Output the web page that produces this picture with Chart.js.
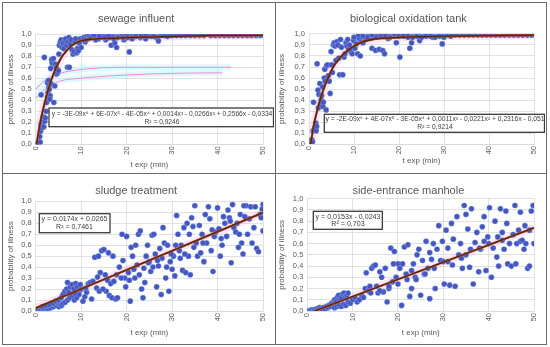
<!DOCTYPE html>
<html><head><meta charset="utf-8">
<script src="https://cdn.jsdelivr.net/npm/chart.js@4/dist/chart.umd.min.js"></script>
<style>
html,body{margin:0;padding:0;background:#fff;width:550px;height:347px;overflow:hidden;position:relative}
canvas{position:absolute}
.ln{position:absolute;background:#6b6b6b}
</style></head><body>
<canvas id="c1" style="left:3px;top:3px;width:271px;height:169px" width="271" height="169"></canvas>
<canvas id="c2" style="left:276px;top:3px;width:269px;height:169px" width="269" height="169"></canvas>
<canvas id="c3" style="left:3px;top:174px;width:271px;height:169px" width="271" height="169"></canvas>
<canvas id="c4" style="left:276px;top:174px;width:269px;height:169px" width="269" height="169"></canvas>
<div class="ln" style="left:2px;top:2px;width:545px;height:1px"></div>
<div class="ln" style="left:2px;top:173px;width:545px;height:1px"></div>
<div class="ln" style="left:2px;top:344px;width:545px;height:1px"></div>
<div class="ln" style="left:2px;top:2px;width:1px;height:343px"></div>
<div class="ln" style="left:275px;top:2px;width:1px;height:343px"></div>
<div class="ln" style="left:546px;top:2px;width:1px;height:343px"></div>
<script>
// ---------- DATA ----------
const panelTitles = ['sewage influent','biological oxidation tank','sludge treatment','side-entrance manhole'];
const xTicks = [0,10,20,30,40,50];
const yTicks = [0,0.1,0.2,0.3,0.4,0.5,0.6,0.7,0.8,0.9,1.0];

const sewagePoints = [[0,0],[0.2,0],[0.4,0],[0.6,0],[0.8,0.01],[0.5,0.02],[1.0,0.02],[0.9,0.07],[1.1,0.12],[1.3,0.15],[1.2,0.18],[1.5,0.2],[1.6,0.22],[1.8,0.16],[1.7,0.25],[2.0,0.21],[2.1,0.24],[1.2,0.45],[1.9,0.79],[2.3,0.3],[2.4,0.38],[2.6,0.43],[2.7,0.47],[2.9,0.52],[2.6,0.56],[2.8,0.58],[3.0,0.5],[3.2,0.44],[3.1,0.41],[3.4,0.55],[3.3,0.69],[3.6,0.74],[3.5,0.77],[3.9,0.78],[4.0,0.38],[4.2,0.53],[4.3,0.73],[4.5,0.7],[4.6,0.64],[4.8,0.65],[5.0,0.67],[5.1,0.82],[5.2,0.9],[5.4,0.93],[5.6,0.95],[5.8,0.88],[6.0,0.92],[6.2,0.87],[6.4,0.94],[6.6,0.96],[6.8,0.9],[7.0,0.7],[7.4,0.7],[7.1,0.93],[7.3,0.97],[7.6,0.91],[7.8,0.95],[8.0,0.86],[8.2,0.82],[8.4,0.84],[8.6,0.93],[8.8,0.96],[9.0,0.83],[9.2,0.87],[9.4,0.85],[9.6,0.92],[9.8,0.96],[10.0,0.88],[10.3,0.95],[10.6,0.97],[10.9,0.93],[11.2,0.98],[11.5,0.96],[11.8,0.99],[12.2,0.97],[12.6,1.0],[13.0,0.98],[13.4,0.99],[13.8,0.96],[14.2,1.0],[14.6,0.98],[15.0,0.99],[15.4,0.95],[15.8,1.0],[16.2,0.97],[16.6,0.9],[17.0,0.99],[17.4,0.92],[17.8,0.88],[18.2,1.0],[18.6,0.98],[19.0,0.99],[19.4,0.95],[19.8,1.0],[20.2,0.97],[20.6,0.84],[21.0,0.99],[21.4,1.0],[21.8,0.98],[22.2,0.99],[22.6,1.0],[23.0,0.97],[23.4,0.99],[23.8,1.0],[24.2,0.96],[24.6,0.99],[25.0,1.0],[25.4,0.98],[25.8,0.99],[26.2,1.0],[26.6,0.97],[27.0,0.94],[27.4,0.99],[27.8,1.0],[28.2,0.99],[28.6,1.0],[29.0,0.98],[29.5,1.0],[30.0,0.99],[30.5,1.0],[31.0,0.99],[31.5,1.0],[32.0,0.99],[32.5,1.0],[33.0,0.99],[33.5,1.0],[34.0,0.99],[34.5,1.0],[35,0.99],[35.5,1.0],[36,0.99],[36.5,1.0],[37,0.99],[37.5,1.0],[38,1.0],[38.5,0.99],[39,1.0],[39.5,0.99],[40,1.0],[40.5,0.99],[41,1.0],[41.5,0.99],[42,1.0],[42.5,0.99],[43,1.0],[43.5,0.99],[44,1.0],[44.5,0.99],[45,1.0],[45.5,0.99],[46,1.0],[46.5,0.99],[47,1.0],[47.5,0.99],[48,1.0],[48.5,0.99],[49,1.0],[49.5,0.99],[50,1.0],[12.8,0.99],[14.0,0.98],[16.0,0.99],[18.0,0.97],[20.0,0.99],[22.0,0.98],[24.0,0.99],[26.0,0.98],[11.0,0.95],[13.2,0.95],[15.2,0.97],[17.2,0.96],[19.2,0.97],[21.2,0.96],[23.2,0.98]];
const sewageTrendX = [0.2,1,2,3,4,5,6,7,8,9,10,12,14,16,18,20,25,30,35,40,45,50];
const sewageTrendY = [0,0.2,0.38,0.53,0.65,0.74,0.81,0.86,0.9,0.925,0.94,0.955,0.96,0.963,0.966,0.97,0.975,0.98,0.985,0.99,0.99,0.99];
const sewageEquation = ['y = -3E-09x\u2076 + 6E-07x\u2075 - 4E-05x\u2074 + 0,0014x\u00b3 - 0,0266x\u00b2 + 0,2566x - 0,0334','R\u00b2 = 0,9246'];
// faint pink ghost curves visible in the sewage panel
const sewageGhostAX = [0,2,5,10,20,30,43];
const sewageGhostAY = [0.5,0.58,0.64,0.68,0.7,0.7,0.7];
const sewageGhostBX = [0,2,5,10,20,30,41];
const sewageGhostBY = [0.42,0.5,0.57,0.6,0.63,0.645,0.65];

const bioPoints = [[0,0],[0.2,0],[0.4,0.01],[0.6,0.04],[0.8,0.02],[0.9,0.12],[1.0,0.38],[1.2,0.13],[1.4,0.15],[1.5,0.19],[1.6,0.12],[1.7,0.16],[1.8,0.73],[2.0,0.49],[2.1,0.33],[2.2,0.45],[2.4,0.55],[2.5,0.36],[2.7,0.4],[2.8,0.44],[3.0,0.52],[3.1,0.34],[3.2,0.38],[3.4,0.6],[3.5,0.68],[3.6,0.57],[3.8,0.31],[3.9,0.71],[4.1,0.72],[4.3,0.62],[4.5,0.57],[4.7,0.46],[4.9,0.84],[5.0,0.72],[5.2,0.65],[5.4,0.9],[5.6,0.92],[5.8,0.89],[6.0,0.76],[6.2,0.93],[6.4,0.9],[6.6,0.78],[6.8,0.63],[7.0,0.95],[7.2,0.88],[7.5,0.63],[7.8,0.79],[8.0,0.82],[8.2,0.92],[8.4,0.89],[8.6,0.95],[8.8,0.86],[9.0,0.9],[9.3,0.84],[9.6,0.82],[9.9,0.94],[10.2,0.87],[10.5,0.91],[10.8,0.82],[11.1,0.96],[11.4,0.8],[11.7,0.93],[12.0,0.92],[12.4,0.97],[12.8,0.95],[13.2,0.99],[13.6,0.98],[14.0,0.87],[14.4,0.97],[14.8,0.85],[15.2,0.99],[15.6,0.86],[16.0,1.0],[16.4,0.85],[16.8,0.82],[17.2,0.98],[17.6,0.96],[18.0,0.99],[18.5,1.0],[19.0,0.98],[19.4,0.92],[19.8,0.99],[20.2,0.79],[20.6,1.0],[21.0,0.98],[21.5,0.99],[22.0,0.97],[22.4,0.87],[22.8,0.92],[23.2,1.0],[23.6,0.98],[24.0,0.99],[24.6,0.94],[25.0,1.0],[25.5,0.99],[26.0,0.98],[26.5,1.0],[27.0,0.99],[27.5,0.97],[28.0,1.0],[28.5,0.99],[29.0,1.0],[29.6,0.91],[30.0,0.99],[30.5,1.0],[31,0.99],[31.5,0.98],[32,1.0],[32.5,0.99],[33,1.0],[33.5,0.99],[34,1.0],[34.5,0.99],[35,1.0],[35.5,0.99],[36,1.0],[36.5,0.99],[37,1.0],[37.5,0.99],[38,1.0],[38.5,0.99],[39,1.0],[39.5,0.99],[40,1.0],[40.5,0.99],[41,1.0],[41.5,0.99],[42,1.0],[42.5,0.99],[43,1.0],[43.5,0.99],[44,1.0],[44.5,0.99],[45,1.0],[45.5,0.99],[46,1.0],[46.5,0.99],[47,1.0],[47.5,0.99],[48,1.0],[48.5,0.99],[49,1.0],[49.5,0.99],[50,1.0],[10.0,0.97],[11.0,0.99],[12.0,0.98],[13.0,0.97],[14.0,0.99],[15.0,0.97],[16.0,0.98],[17.0,0.99],[18.0,0.97],[19.0,1.0],[20.0,0.98],[21.0,0.99],[22.0,1.0],[23.0,0.97],[24.0,0.98],[25.0,0.97],[26.0,0.99],[27.0,0.98],[28.0,0.97],[29.0,0.98],[30.0,0.97]];
const bioTrendX = [0.4,1,2,3,4,5,6,7,8,10,12,14,16,18,20,25,30,40,50];
const bioTrendY = [0,0.16,0.33,0.47,0.58,0.67,0.74,0.79,0.83,0.89,0.93,0.95,0.96,0.965,0.97,0.975,0.98,0.985,0.99];
const bioEquation = ['y = -2E-09x\u2076 + 4E-07x\u2075 - 3E-05x\u2074 + 0,0011x\u00b3 - 0,0221x\u00b2 + 0,2316x - 0,051','R\u00b2 = 0,9214'];

const sludgePoints = [[0,0],[0.3,0],[0.6,0.01],[0.9,0],[1.2,0.01],[1.5,0.02],[1.8,0.01],[2.1,0.02],[2.4,0.03],[2.7,0.02],[3.0,0.04],[3.3,0.03],[3.6,0.05],[3.9,0.04],[4.2,0.06],[4.5,0.05],[4.8,0.07],[5.1,0.04],[5.4,0.06],[5.7,0.05],[6.0,0.07],[1.5,0.04],[2.2,0.05],[3.0,0.06],[3.8,0.07],[4.4,0.09],[5.0,0.1],[5.6,0.12],[6.0,0.15],[6.4,0.18],[6.8,0.2],[7.0,0.26],[7.3,0.17],[7.6,0.22],[8.0,0.24],[8.4,0.2],[8.8,0.25],[9.2,0.22],[9.6,0.18],[6.5,0.08],[7.0,0.1],[7.5,0.12],[8.0,0.14],[8.5,0.1],[9.0,0.12],[9.5,0.15],[10.0,0.2],[10.4,0.09],[10.8,0.13],[11.2,0.17],[11.6,0.25],[12.0,0.26],[12.3,0.11],[12.6,0.27],[13.0,0.49],[13.4,0.21],[13.8,0.5],[14.2,0.35],[14.5,0.55],[15.0,0.56],[15.3,0.33],[14.0,0.18],[13.6,0.31],[15.8,0.28],[16.2,0.14],[16.5,0.25],[16.8,0.12],[17.2,0.27],[17.6,0.11],[18.0,0.12],[16.0,0.53],[17.0,0.5],[18.4,0.4],[19.0,0.7],[19.2,0.46],[19.6,0.3],[20.0,0.68],[20.4,0.35],[20.8,0.09],[21.0,0.58],[21.3,0.5],[21.6,0.38],[22.0,0.6],[22.3,0.42],[22.6,0.7],[23.0,0.73],[23.3,0.2],[23.6,0.12],[24.0,0.26],[24.3,0.5],[24.6,0.6],[25.0,0.45],[25.3,0.36],[25.6,0.69],[26.0,0.7],[26.3,0.52],[26.6,0.22],[27.0,0.41],[27.3,0.57],[27.6,0.15],[28.0,0.76],[28.3,0.62],[28.6,0.3],[29.0,0.6],[29.3,0.18],[29.6,0.45],[30.0,0.38],[30.3,0.5],[30.6,0.32],[31.0,0.87],[31.3,0.7],[31.6,0.55],[32.0,0.6],[32.3,0.37],[32.6,0.76],[33.0,0.35],[33.3,0.8],[33.6,0.5],[34.0,0.33],[34.3,0.85],[34.6,0.77],[35.0,0.96],[35.3,0.62],[35.6,0.5],[36.0,0.78],[36.3,0.53],[36.6,0.7],[37.0,0.45],[37.3,0.88],[37.6,0.62],[38.0,0.95],[38.3,0.84],[38.6,0.55],[39.0,0.36],[39.3,0.68],[39.6,0.72],[40.0,0.94],[40.3,0.75],[40.6,0.5],[41.0,0.6],[41.3,0.86],[41.6,0.8],[42.0,0.68],[42.3,0.92],[42.6,0.85],[43.0,0.44],[43.3,0.97],[43.6,0.76],[44.0,0.72],[44.3,0.8],[44.6,0.58],[45.0,0.88],[45.3,0.62],[45.6,0.52],[46.0,0.86],[46.3,0.96],[46.6,0.7],[47.0,0.84],[47.3,0.95],[47.6,0.62],[48.0,0.76],[48.3,0.95],[48.6,0.57],[49.0,0.54],[49.3,0.88],[49.6,0.85],[50.0,0.97],[50.0,0.73],[49.8,0.93],[45.8,0.96],[44.8,0.7],[42.8,0.82],[40.8,0.66],[38.8,0.74],[36.8,0.62],[34.8,0.58],[33.8,0.7],[32.8,0.52],[31.8,0.48],[30.8,0.6],[29.8,0.52],[28.8,0.4],[27.8,0.48],[26.8,0.46],[25.8,0.4],[24.8,0.44],[23.8,0.39],[22.8,0.33],[21.8,0.3],[20.6,0.28],[19.8,0.22],[18.8,0.3],[17.8,0.33],[15.5,0.18],[14.8,0.2],[11.0,0.21],[9.8,0.24],[8.6,0.16]];
const sludgeTrendX = [0,50];
const sludgeTrendY = [0.0265,0.8965];
const sludgeEquation = ['y = 0,0174x + 0,0265','R\u00b2 = 0,7461'];

const manholePoints = [[0,0],[0.3,0],[0.6,0],[0.9,0.01],[1.2,0],[1.5,0.01],[1.8,0],[2.1,0.02],[2.4,0.01],[2.7,0.03],[3.0,0.02],[3.3,0.01],[3.6,0.03],[3.9,0.02],[4.2,0.04],[4.5,0.03],[4.8,0.05],[5.1,0.04],[5.4,0.07],[5.7,0.06],[6.0,0.1],[6.3,0.08],[6.6,0.12],[6.9,0.14],[7.2,0.1],[7.5,0.12],[7.8,0.15],[8.1,0.16],[8.4,0.13],[8.7,0.14],[9.0,0.16],[6.0,0.03],[6.5,0.04],[7.0,0.05],[7.5,0.04],[8.0,0.06],[8.5,0.05],[9.0,0.08],[9.5,0.07],[10.0,0.1],[10.5,0.12],[11.0,0.08],[11.5,0.1],[12.0,0.14],[12.4,0.12],[12.8,0.2],[13.0,0.34],[13.4,0.18],[13.8,0.22],[14.2,0.38],[14.6,0.4],[15.0,0.41],[15.3,0.22],[15.6,0.16],[16.0,0.35],[16.4,0.3],[16.8,0.17],[17.2,0.38],[17.6,0.08],[18.0,0.2],[18.4,0.56],[18.8,0.26],[19.2,0.53],[19.6,0.3],[20.0,0.42],[20.4,0.38],[20.8,0.05],[21.0,0.42],[21.4,0.57],[21.8,0.33],[22.2,0.59],[22.6,0.13],[23.0,0.2],[23.4,0.42],[23.8,0.3],[24.2,0.5],[24.6,0.55],[25.0,0.14],[25.4,0.45],[25.8,0.33],[26.2,0.62],[26.6,0.38],[27.0,0.11],[27.4,0.46],[27.8,0.6],[28.2,0.2],[28.6,0.55],[29.0,0.76],[29.4,0.45],[29.8,0.62],[30.2,0.24],[30.6,0.72],[31.0,0.56],[31.4,0.23],[31.8,0.78],[32.2,0.64],[32.6,0.22],[33.0,0.84],[33.4,0.5],[33.8,0.6],[34.2,0.38],[34.6,0.94],[35.0,0.86],[35.4,0.73],[35.8,0.39],[36.2,0.91],[36.6,0.24],[37.0,0.61],[37.4,0.7],[37.8,0.35],[38.2,0.55],[38.6,0.75],[39.0,0.84],[39.4,0.36],[39.8,0.66],[40.2,0.92],[40.6,0.3],[41.0,0.56],[41.4,0.8],[41.8,0.48],[42.2,0.4],[42.6,0.91],[43.0,0.7],[43.4,0.55],[43.8,0.89],[44.2,0.42],[44.6,0.6],[45.0,0.4],[45.4,0.68],[45.8,0.94],[46.2,0.6],[46.6,0.72],[47.0,0.62],[47.4,0.63],[47.8,0.55],[48.2,0.6],[48.6,0.38],[49.0,0.72],[49.4,0.89],[49.8,0.94],[50.0,0.6],[49.0,0.4],[48.0,0.76],[46.0,0.42],[44.0,0.78],[42.0,0.66],[40.0,0.6],[38.0,0.56],[36.0,0.55],[34.0,0.47],[32.0,0.41],[30.0,0.44],[28.0,0.38],[26.0,0.33],[24.0,0.28],[22.0,0.28],[20.0,0.24],[18.0,0.22],[16.0,0.18],[14.0,0.16],[19.0,0.42],[23.0,0.36],[27.0,0.52],[31.0,0.44],[35.0,0.5],[39.0,0.62],[43.0,0.63],[47.0,0.88]];
const manholeTrendX = [1.6,50];
const manholeTrendY = [0,0.7407];
const manholeEquation = ['y = 0,0153x - 0,0243','R\u00b2 = 0,703'];

// ---------- LAYOUT / STYLE ----------
const FONT = "'Liberation Sans', Arial, sans-serif";
const GREY = '#595959';

const eqBoxPlugin = {
  id: 'eqbox',
  afterDatasetsDraw(chart, args, o) {
    if (!o || !o.lines) return;
    const ctx = chart.ctx;
    ctx.save();
    ctx.fillStyle = '#ffffff';
    ctx.fillRect(o.x0, o.y0, o.x1 - o.x0, o.y1 - o.y0);
    ctx.strokeStyle = '#3a3a3a';
    ctx.lineWidth = 1.3;
    ctx.strokeRect(o.x0, o.y0, o.x1 - o.x0, o.y1 - o.y0);
    ctx.font = '10px ' + FONT;
    const w = ctx.measureText(o.lines[0]).width;
    const fs = 10 * o.textWidth / w;
    ctx.font = fs.toFixed(2) + 'px ' + FONT;
    ctx.fillStyle = '#404040';
    ctx.textAlign = 'center';
    ctx.textBaseline = 'middle';
    ctx.fillText(o.lines[0], o.cx, o.ly[0]);
    ctx.fillText(o.lines[1], o.cx, o.ly[1]);
    ctx.restore();
  }
};

function pairs(arr){ return arr.map(p => ({x:p[0], y:p[1]})); }
function zip(xs, ys){ return xs.map((x,i)=>({x:x, y:ys[i]})); }

function makeChart(id, title, pts, tx, ty, eq, L, ghosts) {
  const ds = [
    { data: zip(tx, ty), showLine: true, borderColor: '#4e2517', borderWidth: 1.3, pointRadius: 0, fill: false,
      cubicInterpolationMode: 'monotone', order: 0 },
    { data: zip(tx, ty), showLine: true, borderColor: '#b9501f', borderWidth: 2.3, pointRadius: 0, fill: false,
      cubicInterpolationMode: 'monotone', order: 1 },
    { data: pairs(pts), backgroundColor: '#4b52c2', borderColor: 'rgba(140,220,240,0.55)', borderWidth: 0.6,
      pointRadius: 2.8, order: 2 },
    { data: zip(tx, ty), showLine: true, borderColor: 'rgba(255,170,225,0.3)', borderWidth: 8, pointRadius: 0, fill: false,
      cubicInterpolationMode: 'monotone', order: 5 }
  ];
  (ghosts || []).forEach(g => {
    ds.push({ data: zip(g[0], g[1]), showLine: true, borderColor: '#ff86d4', borderWidth: 1, pointRadius: 0, fill: false,
              cubicInterpolationMode: 'monotone', order: 3 });
    ds.push({ data: zip(g[0], g[1]), showLine: true, borderColor: 'rgba(190,245,250,0.5)', borderWidth: 6, pointRadius: 0, fill: false,
              cubicInterpolationMode: 'monotone', order: 4 });
  });
  new Chart(document.getElementById(id), {
    type: 'scatter',
    data: { datasets: ds },
    options: {
      responsive: false, animation: false, devicePixelRatio: 1,
      layout: { padding: { left: 0, right: L.right, top: 0, bottom: 0 } },
      plugins: {
        legend: { display: false }, tooltip: { enabled: false },
        title: { display: true, text: title, color: GREY, font: { family: FONT, size: 11, weight: 'normal', lineHeight: 1.2 },
                 padding: { top: L.tTop, bottom: L.tBot } },
        eqbox: { lines: eq, x0: L.bx0, y0: L.by0, x1: L.bx1, y1: L.by1, cx: L.bcx, ly: L.bly, textWidth: L.bw }
      },
      scales: {
        x: { type: 'linear', min: 0, max: 50,
             afterBuildTicks: s => { s.ticks = xTicks.map(v => ({value: v})); },
             afterFit: s => { s.height = L.xH; },
             ticks: { color: GREY, font: { family: FONT, size: 7.5 }, minRotation: 90, maxRotation: 90, padding: 2, autoSkip: false },
             grid: { color: '#d9d9d9', lineWidth: 0.8, drawTicks: false },
             border: { color: '#d9d9d9', width: 0.8 },
             title: { display: true, text: 't exp (min)', color: GREY, font: { family: FONT, size: 8, lineHeight: 1.2 }, padding: { top: 0, bottom: L.xtB } } },
        y: { type: 'linear', min: 0, max: 1,
             afterBuildTicks: s => { s.ticks = yTicks.map(v => ({value: v})); },
             afterFit: s => { s.width = L.yW; },
             ticks: { color: GREY, font: { family: FONT, size: 7.5 }, padding: 4, autoSkip: false,
                      callback: v => Number(v).toFixed(1).replace('.', ',') },
             grid: { color: '#d9d9d9', lineWidth: 0.8, drawTicks: false },
             border: { display: false },
             title: { display: true, text: 'probability of illness', color: GREY, font: { family: FONT, size: 8, lineHeight: 1.2 }, padding: { top: L.ytT, bottom: 0 } } }
      }
    },
    plugins: [eqBoxPlugin]
  });
}

makeChart('c1', panelTitles[0], sewagePoints, sewageTrendX, sewageTrendY, sewageEquation,
  { right: 4.7, tTop: 9.4, tBot: 8.7, xH: 27.7, xtB: 2.2, yW: 32.7, ytT: 3.2,
    bx0: 46, by0: 105, bx1: 270.5, by1: 123.7, bcx: 159, bly: [111, 119], bw: 221 },
  [[sewageGhostAX, sewageGhostAY], [sewageGhostBX, sewageGhostBY]]);
makeChart('c2', panelTitles[1], bioPoints, bioTrendX, bioTrendY, bioEquation,
  { right: 4.3, tTop: 9.7, tBot: 8.1, xH: 28, xtB: 6.2, yW: 33, ytT: 0.9,
    bx0: 48.3, by0: 111.3, bx1: 268.5, by1: 129.3, bcx: 159, bly: [116.5, 124], bw: 219 });
makeChart('c3', panelTitles[2], sludgePoints, sludgeTrendX, sludgeTrendY, sludgeEquation,
  { right: 4.7, tTop: 10.7, tBot: 3.4, xH: 32, xtB: 5.5, yW: 32.7, ytT: 3.2,
    bx0: 36.3, by0: 39.7, bx1: 107, by1: 58.7, bcx: 71.5, bly: [45.3, 53], bw: 66 });
makeChart('c4', panelTitles[3], manholePoints, manholeTrendX, manholeTrendY, manholeEquation,
  { right: 4.3, tTop: 10.4, tBot: 1.1, xH: 32, xtB: 5.2, yW: 31.3, ytT: 0.9,
    bx0: 37.3, by0: 37.3, bx1: 106.3, by1: 55.3, bcx: 72, bly: [42.8, 50.5], bw: 65 });
</script>
</body></html>
